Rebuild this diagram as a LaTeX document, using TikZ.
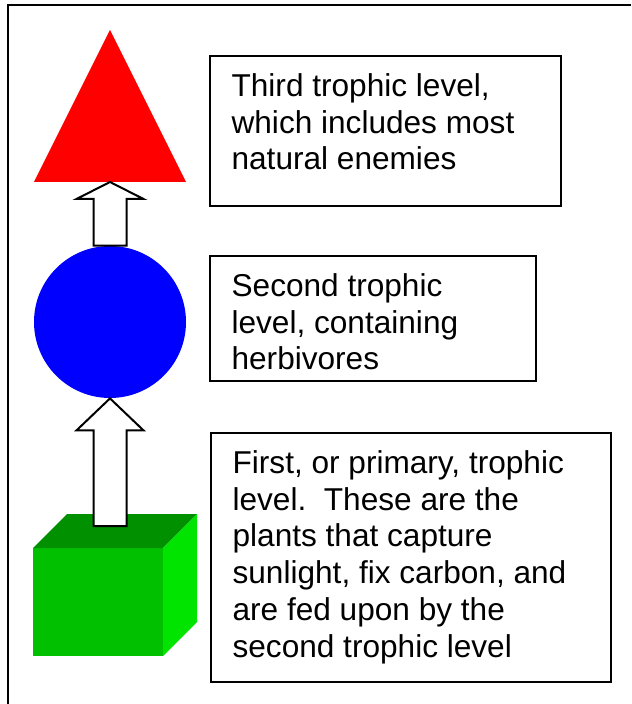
\documentclass[tikz,border=0pt]{standalone}
\usepackage{fontspec}
\setmainfont{Liberation Sans}
\usetikzlibrary{calc}
\definecolor{cubefront}{RGB}{0,192,0}
\definecolor{cubetop}{RGB}{0,144,0}
\definecolor{cubeside}{RGB}{0,228,0}
\tikzset{
  levelbox/.style={draw=black,line width=1pt,anchor=north west,inner xsep=10.8pt,inner ysep=8.7pt,
    font=\fontsize{15.8pt}{18.4pt}\selectfont},
  blockarr/.style={draw=black,fill=white,line width=1pt,line join=miter}
}
\newcommand\blockarrow[3]{%
  \draw[blockarr] ($(#1)+(-16.5,0)$) -- ($(#2)+(-16.5,#3)$) -- ($(#2)+(-33.5,#3)$) -- (#2)
    -- ($(#2)+(33.5,#3)$) -- ($(#2)+(16.5,#3)$) -- ($(#1)+(16.5,0)$) -- cycle;}
\begin{document}
\begin{tikzpicture}[x=0.5pt,y=-0.5pt]
\useasboundingbox (0,0) rectangle (631,704);
\fill[white] (0,0) rectangle (631,704);
\draw[line width=1pt] (8,704) -- (8,5) -- (631,5);
\fill[red] (34,182) -- (110,30) -- (186,182) -- cycle;
\coordinate (topbase) at (110,182);
\node[circle,fill=blue,inner sep=0pt,minimum size=76pt] (consumer) at (110,322) {};
\fill[cubefront] (33,548) rectangle (163,656);
\fill[cubetop] (33,548) -- (67,514) -- (197,514) -- (163,548) -- cycle;
\fill[cubeside] (163,548) -- (197,514) -- (197,622) -- (163,656) -- cycle;
\coordinate (cubetopface) at (110,526);
\blockarrow{consumer.north}{topbase}{17}
\blockarrow{cubetopface}{consumer.south}{32}
\node[levelbox] (third) at (209,55) {\parbox[t][57.6pt][t]{153.9pt}{Third trophic level,\\ which includes most\\ natural enemies}};
\node[levelbox] (second) at (209,255) {\parbox[t][45.1pt][t]{141.4pt}{Second trophic\\ level, containing\\ herbivores}};
\node[levelbox] (first) at (210,432) {\parbox[t][107.1pt][t]{178.4pt}{First, or primary, trophic\\ level.\ \ These are the\\ plants that capture\\ sunlight, fix carbon, and\\ are fed upon by the\\ second trophic level}};
\end{tikzpicture}
\end{document}
